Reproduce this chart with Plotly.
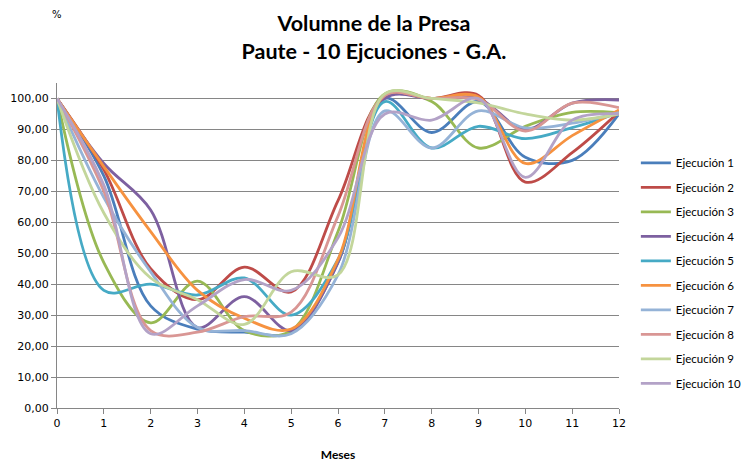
import plotly.graph_objects as go

months = list(range(13))
series_names = [f"Ejecución {i}" for i in range(1, 11)]

ejec1 = [100, 75, 33, 25.5, 24.5, 24.5, 47, 100, 89, 99, 81, 80, 95]
ejec2 = [100, 77, 45, 35, 45.5, 37.5, 67, 101, 100, 101, 73, 82.5, 95.7]
ejec3 = [100, 47, 27.5, 41, 25, 25, 57, 101.5, 99, 84, 91, 95.5, 95.4]
ejec4 = [100, 79, 64, 26, 36, 25, 47, 100, 100, 100, 90, 98.5, 99.5]
ejec5 = [100, 38, 40, 36.5, 42, 30, 48, 99, 84, 91, 87, 90.6, 95.4]
ejec6 = [100, 78, 57, 38, 29, 25.5, 48, 101, 100, 100.5, 79, 88, 96.3]
ejec7 = [100, 68, 44, 26, 25, 24, 43, 96, 84, 96, 90.5, 92, 95.4]
ejec8 = [100, 70, 25, 24.5, 29.5, 31, 62, 101, 100, 99.7, 89.5, 98.5, 97]
ejec9 = [100, 63, 42, 35, 27, 44, 43, 101.5, 100, 98.6, 95, 93, 95]
ejec10 = [100, 72, 24, 33, 41.5, 38, 55, 95, 93, 100, 74.5, 93, 95]
all_series = [ejec1, ejec2, ejec3, ejec4, ejec5, ejec6, ejec7, ejec8, ejec9, ejec10]

colors = ["#4A7EBB", "#BE4B48", "#98B954", "#7D60A0", "#46AAC5",
          "#F69240", "#95B3D7", "#D99694", "#C3D69B", "#B3A2C7"]

fig = go.Figure()
for name, vals, col in zip(series_names, all_series, colors):
    fig.add_trace(go.Scatter(
        x=months, y=vals, mode="lines", name=name, legendgroup=name,
        line=dict(color=col, width=2.8, shape="spline", smoothing=1.0),
    ))

grid = "#868686"
fig.update_layout(
    width=748, height=471,
    margin=dict(l=57, r=129, t=83, b=63, autoexpand=False),
    paper_bgcolor="white", plot_bgcolor="white",
    separators=",.",
    font=dict(family="DejaVu Sans", size=11, color="#000000"),
    title=dict(
        text="<b>Volumne de la Presa<br>Paute - 10 Ejcuciones - G.A.</b>",
        x=0.5, xanchor="center", xref="container",
        y=1 - 31 / 471, yanchor="middle", yref="container",
        font=dict(family="Lato", size=21.5, color="#000000"),
    ),
    xaxis=dict(
        range=[0, 12], dtick=1, tick0=0, showgrid=False, zeroline=False,
        showline=True, linecolor=grid, linewidth=1,
        ticks="outside", ticklen=5, tickcolor=grid,
        tickfont=dict(family="DejaVu Sans", size=11),
        automargin=False,
        title=dict(text="<b>Meses</b>", standoff=21,
                   font=dict(family="Lato", size=12)),
    ),
    yaxis=dict(
        range=[0, 105], dtick=10, tick0=0, tickformat=".2f",
        showgrid=True, gridcolor=grid, gridwidth=1, zeroline=False,
        showline=True, linecolor=grid, linewidth=1,
        ticks="outside", ticklen=5, tickcolor=grid,
        tickfont=dict(family="DejaVu Sans", size=11),
        automargin=False,
    ),
    legend=dict(
        x=1.03, xanchor="left", y=0.414, yanchor="middle",
        font=dict(family="Lato", size=11.5), itemwidth=30,
        tracegroupgap=5.5, bgcolor="rgba(0,0,0,0)",
    ),
    showlegend=True,
)
fig.add_annotation(text="%", xref="paper", yref="paper", x=0, y=1 + (83 - 14) / 325,
                   showarrow=False, xanchor="center", yanchor="middle",
                   font=dict(family="DejaVu Sans", size=10, color="#000000"))

fig.write_html("out.html")
